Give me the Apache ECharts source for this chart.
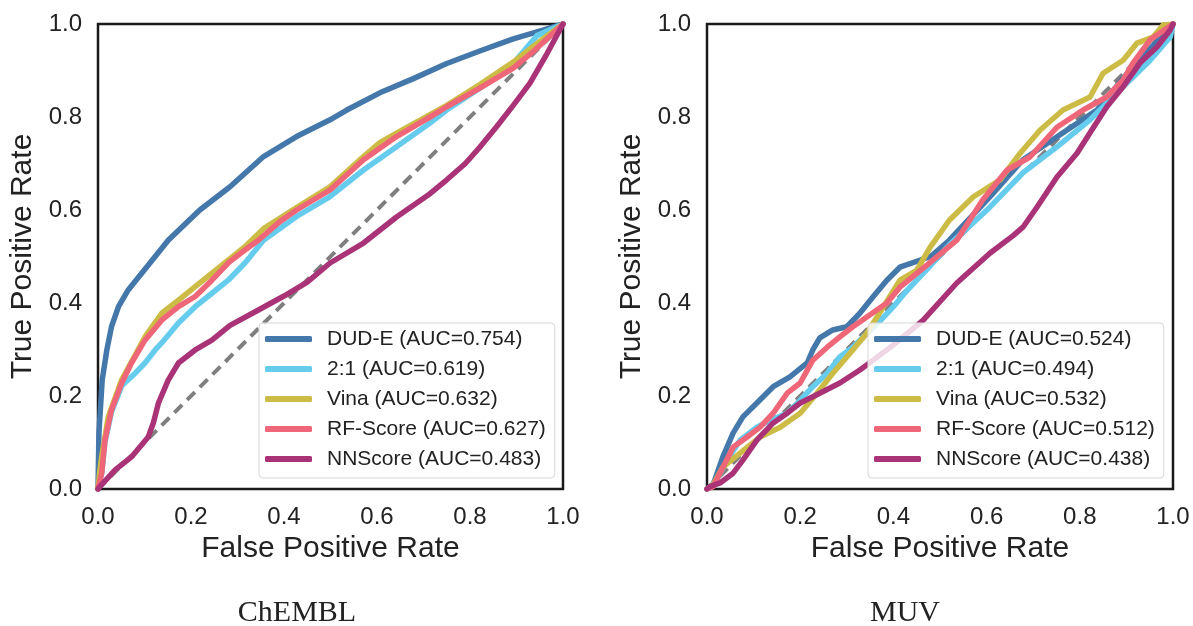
<!DOCTYPE html>
<html>
<head>
<meta charset="utf-8">
<script src="https://cdn.jsdelivr.net/npm/echarts@6/dist/echarts.min.js"></script>
<style>
  html, body { margin: 0; padding: 0; background: #ffffff; }
  #chart { width: 1193px; height: 626px; }
</style>
</head>
<body>
<div id="chart"></div>
<script>
// ROC curves, [false positive rate, true positive rate]

// ChEMBL panel
const chemblDudE = [[0,0],[0.002,0.12],[0.009,0.234],[0.019,0.299],[0.029,0.349],[0.044,0.392],[0.065,0.428],[0.094,0.464],[0.123,0.5],[0.151,0.535],[0.219,0.6],[0.284,0.65],[0.356,0.715],[0.427,0.758],[0.499,0.794],[0.535,0.815],[0.606,0.852],[0.677,0.882],[0.75,0.915],[0.821,0.942],[0.893,0.968],[0.957,0.987],[1,1]];
const chemblTwoOne = [[0,0],[0.008,0.034],[0.015,0.1],[0.029,0.165],[0.051,0.222],[0.08,0.249],[0.101,0.271],[0.123,0.299],[0.137,0.314],[0.173,0.357],[0.209,0.392],[0.245,0.421],[0.28,0.449],[0.316,0.486],[0.356,0.535],[0.427,0.586],[0.499,0.629],[0.571,0.686],[0.642,0.736],[0.714,0.787],[0.75,0.815],[0.821,0.862],[0.893,0.915],[0.944,0.975],[1,1]];
const chemblVina = [[0,0],[0.004,0.04],[0.008,0.07],[0.022,0.155],[0.051,0.235],[0.101,0.327],[0.137,0.378],[0.173,0.406],[0.209,0.435],[0.245,0.464],[0.28,0.492],[0.316,0.521],[0.356,0.56],[0.427,0.605],[0.499,0.65],[0.571,0.715],[0.606,0.745],[0.642,0.765],[0.714,0.805],[0.75,0.825],[0.821,0.87],[0.893,0.918],[0.94,0.955],[1,1]];
const chemblRfScore = [[0,0],[0.008,0.034],[0.015,0.105],[0.029,0.17],[0.051,0.228],[0.072,0.271],[0.101,0.32],[0.137,0.363],[0.173,0.392],[0.209,0.414],[0.245,0.449],[0.282,0.488],[0.316,0.514],[0.345,0.535],[0.391,0.575],[0.427,0.6],[0.499,0.643],[0.571,0.708],[0.642,0.758],[0.714,0.8],[0.75,0.822],[0.821,0.862],[0.893,0.905],[0.935,0.94],[1,1]];
const chemblNnScore = [[0,0],[0.004,0.005],[0.037,0.041],[0.072,0.069],[0.108,0.112],[0.119,0.142],[0.13,0.185],[0.151,0.234],[0.173,0.271],[0.209,0.299],[0.245,0.32],[0.284,0.352],[0.345,0.385],[0.4,0.415],[0.45,0.445],[0.499,0.486],[0.571,0.529],[0.642,0.585],[0.714,0.635],[0.75,0.665],[0.79,0.7],[0.821,0.735],[0.858,0.78],[0.893,0.825],[0.929,0.873],[0.966,0.937],[1,1]];

// MUV panel
const muvDudE = [[0,0],[0.013,0.009],[0.034,0.069],[0.056,0.12],[0.077,0.155],[0.107,0.185],[0.142,0.22],[0.178,0.241],[0.215,0.271],[0.227,0.299],[0.242,0.325],[0.27,0.342],[0.3,0.349],[0.328,0.378],[0.356,0.413],[0.386,0.449],[0.414,0.477],[0.48,0.5],[0.52,0.535],[0.607,0.628],[0.678,0.708],[0.764,0.766],[0.837,0.815],[0.908,0.901],[1,1]];
const muvTwoOne = [[0,0],[0.017,0.013],[0.043,0.062],[0.071,0.105],[0.107,0.133],[0.14,0.15],[0.172,0.163],[0.2,0.191],[0.227,0.22],[0.258,0.249],[0.285,0.284],[0.313,0.305],[0.335,0.327],[0.37,0.36],[0.4,0.392],[0.43,0.428],[0.47,0.47],[0.52,0.525],[0.607,0.606],[0.678,0.68],[0.751,0.736],[0.822,0.794],[0.893,0.865],[0.951,0.922],[0.994,0.972],[1,1]];
const muvVina = [[0,0],[0.013,0.009],[0.034,0.047],[0.071,0.077],[0.114,0.112],[0.157,0.133],[0.2,0.163],[0.236,0.206],[0.27,0.249],[0.307,0.292],[0.343,0.335],[0.378,0.391],[0.414,0.449],[0.45,0.47],[0.479,0.52],[0.52,0.578],[0.571,0.628],[0.629,0.665],[0.672,0.722],[0.715,0.772],[0.764,0.815],[0.822,0.843],[0.85,0.894],[0.893,0.922],[0.923,0.959],[0.957,0.972],[0.979,0.998],[1,1]];
const muvRfScore = [[0,0],[0.013,0.005],[0.056,0.09],[0.086,0.112],[0.114,0.133],[0.142,0.163],[0.172,0.206],[0.2,0.228],[0.227,0.277],[0.258,0.305],[0.285,0.327],[0.313,0.349],[0.343,0.37],[0.386,0.4],[0.414,0.434],[0.47,0.48],[0.536,0.535],[0.592,0.622],[0.644,0.686],[0.693,0.714],[0.751,0.778],[0.807,0.815],[0.858,0.843],[0.893,0.88],[0.914,0.916],[0.951,0.966],[1,1]];
const muvNnScore = [[0,0],[0.006,0.005],[0.028,0.013],[0.056,0.034],[0.077,0.062],[0.107,0.105],[0.142,0.142],[0.172,0.163],[0.2,0.185],[0.242,0.206],[0.285,0.228],[0.328,0.256],[0.343,0.267],[0.4,0.31],[0.464,0.363],[0.536,0.443],[0.607,0.507],[0.657,0.545],[0.678,0.563],[0.708,0.606],[0.751,0.671],[0.794,0.722],[0.822,0.766],[0.858,0.822],[0.893,0.865],[0.929,0.916],[0.966,0.951],[0.994,0.987],[1,1]];

// chance diagonal
const diagonal = [[0,0],[1,1]];

const chemblNames = ['DUD-E (AUC=0.754)', '2:1 (AUC=0.619)', 'Vina (AUC=0.632)', 'RF-Score (AUC=0.627)', 'NNScore (AUC=0.483)'];
const muvNames = ['DUD-E (AUC=0.524)', '2:1 (AUC=0.494)', 'Vina (AUC=0.532)', 'RF-Score (AUC=0.512)', 'NNScore (AUC=0.438)'];
const panelTitles = ['ChEMBL', 'MUV'];
const tickValues = [0, 0.2, 0.4, 0.6, 0.8, 1.0];

const colors = ['#4477AA', '#66CCEE', '#CCBB44', '#EE6677', '#AA3377'];
const FONT = 'Liberation Sans, Arial, sans-serif';
const INK = '#222222';

const panels = [
  { names: chemblNames, curves: [chemblDudE, chemblTwoOne, chemblVina, chemblRfScore, chemblNnScore] },
  { names: muvNames, curves: [muvDudE, muvTwoOne, muvVina, muvRfScore, muvNnScore] }
];

const grids = [
  { left: 98, top: 24, width: 465, height: 465 },
  { left: 707, top: 24, width: 466, height: 465 }
].map(g => Object.assign(g, { show: true, borderColor: '#1a1a1a', borderWidth: 2.5, backgroundColor: 'transparent' }));

function makeAxis(idx, isX) {
  return {
    type: 'value', gridIndex: idx, min: 0, max: 1, interval: 0.2,
    name: isX ? 'False Positive Rate' : 'True Positive Rate',
    nameLocation: 'middle',
    nameGap: isX ? 43 : 60,
    nameTextStyle: { fontSize: 30, color: INK, fontFamily: FONT },
    axisLine: { show: false },
    axisTick: { show: false },
    splitLine: { show: false },
    axisLabel: {
      show: true, fontSize: 24, color: INK, fontFamily: FONT,
      margin: isX ? 16 : 16,
      showMinLabel: true, showMaxLabel: true,
      formatter: v => {
        const hit = tickValues.find(t => Math.abs(t - v) < 1e-9);
        return hit === undefined ? '' : hit.toFixed(1);
      }
    }
  };
}

const series = [];
panels.forEach((p, idx) => {
  series.push({
    name: 'chance-' + idx, type: 'line', xAxisIndex: idx, yAxisIndex: idx,
    data: diagonal, symbol: 'none', silent: true, z: 1,
    lineStyle: { color: '#7f7f7f', width: 4, type: [11, 7] }
  });
  p.curves.forEach((c, k) => {
    series.push({
      name: p.names[k], type: 'line', xAxisIndex: idx, yAxisIndex: idx,
      data: c, symbol: 'none', showSymbol: false, z: 2 + k,
      lineStyle: { color: colors[k], width: 5.5, join: 'round', cap: 'round' },
      itemStyle: { color: colors[k] }
    });
  });
});

function makeLegend(names, left) {
  return {
    data: names, orient: 'vertical', left: left, top: 323, z: 20,
    icon: 'roundRect', itemWidth: 47, itemHeight: 6, itemGap: 6,
    padding: [4, 9, 7, 6],
    backgroundColor: 'rgba(255,255,255,0.8)',
    borderColor: '#d6d6d6', borderWidth: 1, borderRadius: 4,
    selectedMode: false,
    textStyle: { fontSize: 21, color: INK, fontFamily: FONT, lineHeight: 24, padding: [0, 0, 0, 10] }
  };
}

const chart = echarts.init(document.getElementById('chart'), null, { renderer: 'canvas' });
chart.setOption({
  animation: false,
  backgroundColor: '#ffffff',
  grid: grids,
  xAxis: [makeAxis(0, true), makeAxis(1, true)],
  yAxis: [makeAxis(0, false), makeAxis(1, false)],
  legend: [makeLegend(chemblNames, 259), makeLegend(muvNames, 868)],
  series: series,
  graphic: [
    { type: 'text', x: 297, y: 613, style: { text: panelTitles[0], align: 'center', verticalAlign: 'middle', fontSize: 30, fontFamily: 'Liberation Serif, serif', fill: '#222' } },
    { type: 'text', x: 905, y: 613, style: { text: panelTitles[1], align: 'center', verticalAlign: 'middle', fontSize: 30, fontFamily: 'Liberation Serif, serif', fill: '#222' } }
  ]
});
</script>
</body>
</html>
